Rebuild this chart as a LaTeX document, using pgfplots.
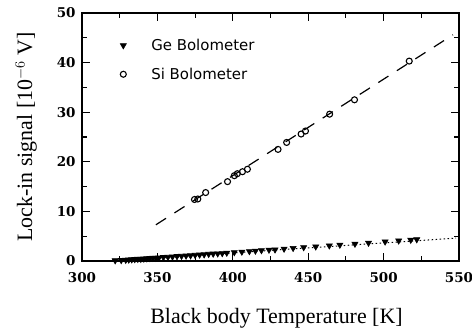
\documentclass[border=0pt]{standalone}
\usepackage{fontspec}
\setmainfont{Liberation Serif}
\newfontfamily\labfont{Liberation Serif}
\newfontfamily\tickfont{DejaVu Serif}
\newfontfamily\legfont{DejaVu Sans}
\usepackage{pgfplots}
\pgfplotsset{compat=1.18}
\begin{document}
\begin{tikzpicture}
\begin{axis}[
  width=377bp, height=248bp, scale only axis,
  xmin=300, xmax=550, ymin=0, ymax=50,
  xtick={300,350,...,550}, minor xtick={325,375,...,525},
  ytick={0,10,...,50}, minor ytick={5,15,...,45},
  tick align=inside, major tick length=8bp, minor tick length=5bp,
  axis line style={line width=1.3bp},
  every tick/.style={black, line width=1.1bp},
  /pgf/number format/assume math mode=true,
  ticklabel style={font=\tickfont\bfseries\fontsize{13.5}{15}\selectfont},
  xticklabel style={yshift=-8bp},
  yticklabel style={xshift=-3bp},
  xlabel={Black body Temperature [K]},
  ylabel={Lock-in signal [10$^{-6}$ V]},
  label style={font=\labfont\fontsize{22}{24}\selectfont},
  xlabel style={yshift=-19bp, xshift=6bp},
  ylabel style={yshift=13bp},
  legend style={draw=none, fill=none, at={(rel axis cs:0.064,0.912)}, anchor=north west,
     font=\legfont\fontsize{15}{17}\selectfont, row sep=12bp},
  legend cell align=left,
  legend image code/.code={\path[draw=none,fill=none] (0bp,0bp) (40bp,0bp); \draw[mark repeat=2,mark phase=2,#1,only marks] plot coordinates {(0bp,0bp) (14bp,0bp) (40bp,0bp)};},
]
\addplot[only marks, mark=triangle*, mark size=3.5bp, mark options={rotate=180, fill=black, line width=0.6bp}] coordinates {
(322,0.1)(326,0.15)(329,0.2)(331,0.25)(333,0.3)(335,0.35)(337,0.4)(339,0.4)
(341,0.45)(343,0.5)(345,0.55)(347,0.6)(349,0.6)(351,0.65)(354,0.75)(357,0.8)
(360,0.85)(363,0.95)(366,1.0)(369,1.05)(372,1.1)(375,1.2)(378,1.25)(381,1.3)
(384,1.4)(387,1.45)(390,1.5)(393,1.55)(396,1.65)(401,1.75)(406,1.85)(411,1.95)
(415,2.05)(419,2.15)(424,2.25)(428,2.3)(434,2.45)(440,2.6)(447,2.75)(455,2.9)
(464,3.1)(471,3.25)(481,3.45)(490,3.65)(501,3.9)(510,4.1)(518,4.25)(522,4.35)
};
\addlegendentry{Ge Bolometer}
\addplot[only marks, mark=o, mark size=3bp, mark options={line width=1.1bp}] coordinates {
(374.6,12.4)(376.8,12.5)(382,13.8)(396.5,16.0)(401,17.2)(403,17.6)(406.4,18.0)
(409.7,18.5)(430,22.5)(435.7,23.9)(445.3,25.6)(448.2,26.2)(464.2,29.6)(480.7,32.5)(517,40.3)
};
\addlegendentry{Si Bolometer}
\addplot[forget plot, black, line width=1.2bp, dash pattern=on 12bp off 10bp] coordinates {(349,7.3)(546,45.6)};
\addplot[forget plot, black, line width=1bp, dash pattern=on 1.5bp off 2.5bp] coordinates {(328,0.2)(548,4.6)};
\end{axis}
\pgfresetboundingbox
\path (current axis.south west) +(-82bp,-68bp) rectangle (current axis.north east) (current axis.north east) +(13bp,13bp);
\end{tikzpicture}
\end{document}
